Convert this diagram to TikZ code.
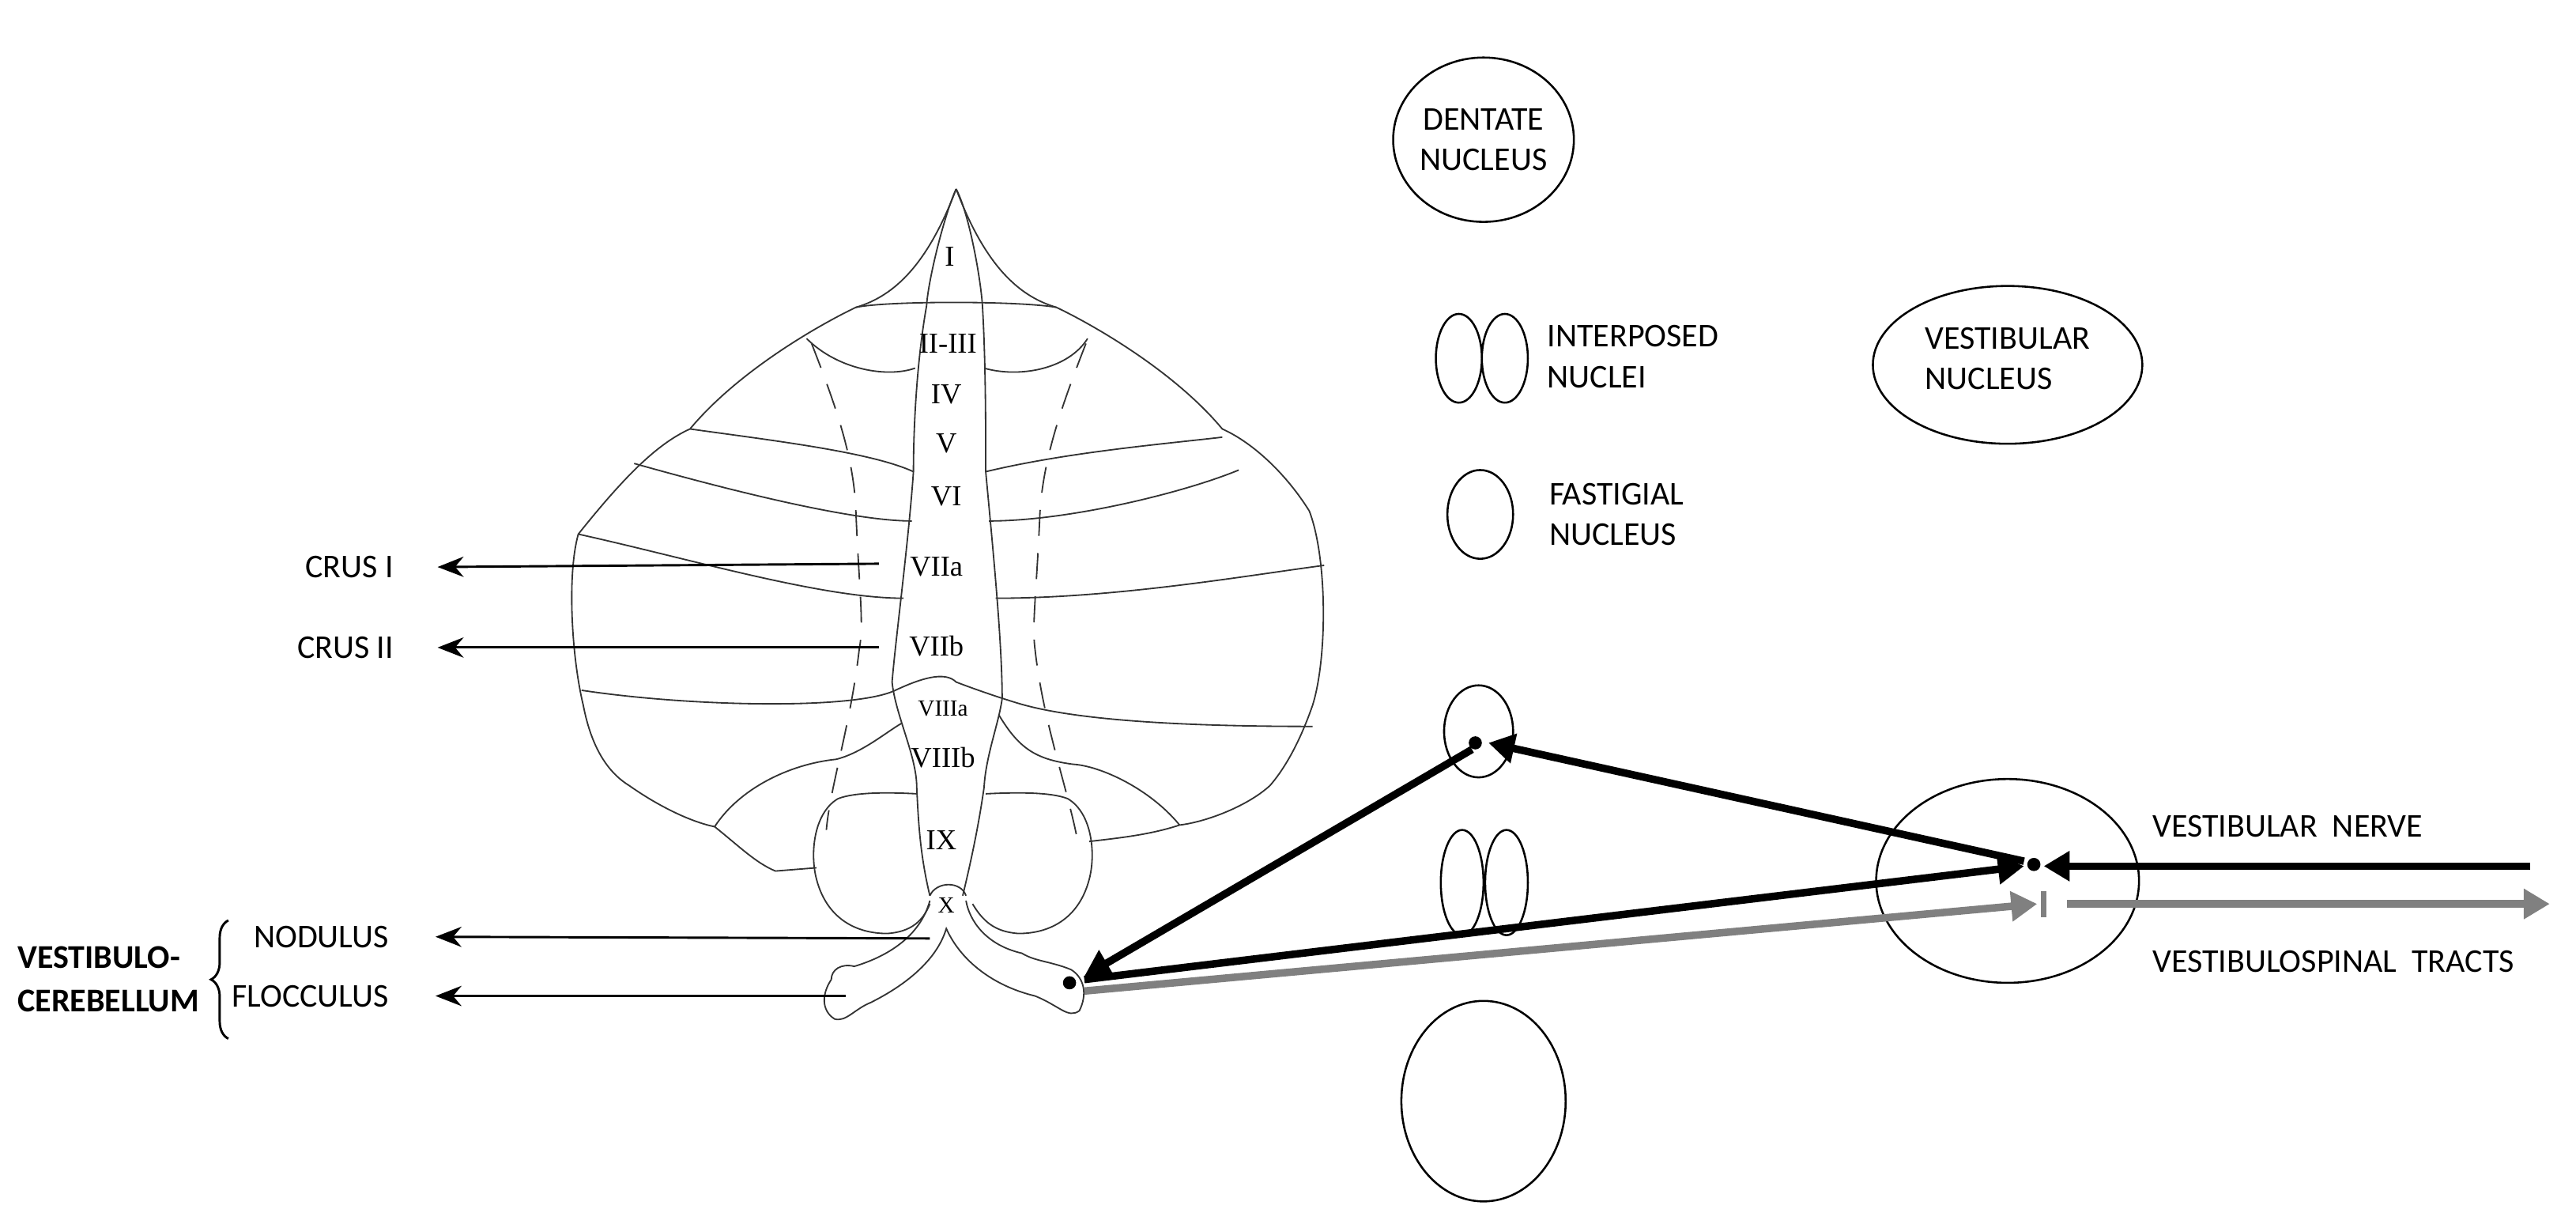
\documentclass[tikz,border=0pt]{standalone}
\usepackage{fontspec}
\setmainfont{Carlito}
\newfontfamily\rom{Liberation Serif}
\usetikzlibrary{arrows.meta,decorations.pathreplacing,shapes.geometric}
\begin{document}
\begin{tikzpicture}[x=0.02cm,y=-0.02cm,
  lbl/.style={font=\fontsize{11.5}{14}\selectfont,align=left,inner sep=0},
  rn/.style={font=\rom\fontsize{10}{12}\selectfont,inner sep=0},
  cb/.style={line width=0.5pt,black!80},
  thin/.style={line width=0.8pt,-{Stealth[length=9pt,width=7pt]}},
  thk/.style={line width=2.6pt,-{Triangle[length=9pt,width=10pt]}},
  gry/.style={line width=2.6pt,gray,-{Triangle[length=9pt,width=10pt]}},
  nuc/.style={draw,line width=0.7pt}]
\useasboundingbox (0,0) rectangle (1568,747);
% ---- cerebellum ----
\draw[cb] (582,115) .. controls (565,160) and (545,180) .. (521,187)
  .. controls (500,197) and (450,225) .. (420,261)
  .. controls (400,270) and (380,290) .. (352,325)
  .. controls (345,350) and (348,400) .. (355,429)
  .. controls (360,455) and (370,470) .. (383,478)
  .. controls (400,490) and (420,500) .. (435,503);
\draw[cb] (582,115) .. controls (599,160) and (619,180) .. (643,187)
  .. controls (664,197) and (714,225) .. (744,261)
  .. controls (764,270) and (784,290) .. (797,311)
  .. controls (808,340) and (808,400) .. (799,429)
  .. controls (790,455) and (780,470) .. (773,478)
  .. controls (760,490) and (735,500) .. (718,502);
% vermis
\draw[cb] (582,115) .. controls (575,130) and (565,170) .. (564,186)
  .. controls (558,220) and (556,260) .. (556,287)
  .. controls (553,330) and (545,390) .. (543,415)
  .. controls (545,435) and (558,460) .. (558,479)
  .. controls (559,500) and (560,520) .. (566,545);
\draw[cb] (582,115) .. controls (590,130) and (597,170) .. (598,186)
  .. controls (600,220) and (600,260) .. (600,287)
  .. controls (604,330) and (610,390) .. (610,425)
  .. controls (608,440) and (600,460) .. (599,479)
  .. controls (596,500) and (592,520) .. (586,545);
% horizontal lines
\draw[cb] (521,187) .. controls (540,183) and (620,183) .. (643,187);
\draw[cb] (491,206) .. controls (510,225) and (540,230) .. (557,224)
   (599,224) .. controls (620,230) and (650,225) .. (662,206);
\draw[cb] (420,261) .. controls (470,268) and (530,275) .. (556,287)
   (600,287) .. controls (650,275) and (710,270) .. (744,266);
\draw[cb] (386,282) .. controls (450,300) and (520,317) .. (555,317)
   (602,317) .. controls (650,317) and (720,300) .. (754,286);
\draw[cb] (352,325) .. controls (420,340) and (500,364) .. (550,364)
   (606,364) .. controls (680,364) and (760,350) .. (806,344);
\draw[cb] (354,420) .. controls (420,430) and (520,432) .. (545,420)
  .. controls (560,413) and (575,408) .. (582,415)
  .. controls (595,420) and (610,425) .. (620,428)
  .. controls (660,440) and (740,442) .. (799,442);
% VIIIb lobes
\draw[cb] (435,503) .. controls (450,480) and (480,465) .. (509,462)
  .. controls (525,458) and (540,445) .. (549,440);
\draw[cb] (718,502) .. controls (700,480) and (670,466) .. (653,465)
  .. controls (630,462) and (620,455) .. (608,435);
\draw[cb] (435,503) .. controls (450,515) and (460,525) .. (472,530) -- (497,528);
\draw[cb] (718,502) .. controls (700,508) and (680,510) .. (663,512);
% tonsils
\draw[cb] (558,483) .. controls (540,482) and (520,482) .. (510,486)
  .. controls (495,495) and (493,520) .. (497,535)
  .. controls (503,558) and (520,568) .. (540,568)
  .. controls (555,567) and (562,560) .. (566,550);
\draw[cb] (600,483) .. controls (620,482) and (640,482) .. (650,486)
  .. controls (665,495) and (667,520) .. (663,535)
  .. controls (657,558) and (640,568) .. (620,568)
  .. controls (605,567) and (598,560) .. (592,550);
% nodulus / flocculus
\draw[cb] (566,545) .. controls (570,536) and (585,536) .. (588,545);
\draw[cb] (566,548) .. controls (560,570) and (540,582) .. (520,588)
  .. controls (512,586) and (506,590) .. (506,596)
  .. controls (500,605) and (500,615) .. (508,620)
  .. controls (515,622) and (520,614) .. (530,610)
  .. controls (550,600) and (570,585) .. (576,565)
  .. controls (585,585) and (605,600) .. (630,606)
  .. controls (645,612) and (650,620) .. (657,615)
  .. controls (662,605) and (660,595) .. (652,590)
  .. controls (640,585) and (630,585) .. (622,580)
  .. controls (600,575) and (590,560) .. (588,548);
% dashed
\draw[cb,dashed,dash pattern=on 9pt off 6pt] (494,209) .. controls (510,250) and (520,280) .. (521,312)
  .. controls (523,360) and (526,380) .. (523,395) .. controls (518,440) and (505,480) .. (503,505);
\draw[cb,dashed,dash pattern=on 9pt off 6pt] (661,209) .. controls (645,250) and (635,280) .. (633,312)
  .. controls (631,360) and (628,380) .. (630,395) .. controls (635,440) and (650,480) .. (656,512);
% numerals
\node[rn] at (578,156) {I};
\node[rn] at (577,209) {II-III};
\node[rn] at (576,240) {IV};
\node[rn] at (576,270) {V};
\node[rn] at (576,302) {VI};
\node[rn] at (570,345) {VIIa};
\node[rn] at (570,393) {VIIb};
\node[rn,font=\rom\fontsize{8}{10}\selectfont] at (574,431) {VIIIa};
\node[rn] at (574,461) {VIIIb};
\node[rn] at (573,511) {IX};
\node[rn,font=\rom\fontsize{8}{10}\selectfont] at (576,551) {X};
% left labels
\coordinate (c1) at (535,343); \coordinate (c2) at (535,394);
\coordinate (c3) at (566,571); \coordinate (c4) at (515,606);
\node[lbl,anchor=east] (crus1) at (240,345) {CRUS I};
\node[lbl,anchor=east] (crus2) at (240,394) {CRUS II};
\node[lbl,anchor=east] (nod) at (237,570) {NODULUS};
\node[lbl,anchor=east] (flo) at (237,606) {FLOCCULUS};
\draw[thin] (c1) -- ([xshift=15pt]crus1.east);
\draw[thin] (c2) -- ([xshift=15pt]crus2.east);
\draw[thin] (c3) -- ([xshift=16pt]nod.east);
\draw[thin] (c4) -- ([xshift=16pt]flo.east);
\node[lbl,font=\bfseries\fontsize{11.5}{15}\selectfont] (vc) at (66,596) {VESTIBULO-\\CEREBELLUM};
\draw[line width=0.8pt,decorate,decoration={brace,amplitude=6pt,mirror}] (139,560) -- (139,632);
% nuclei
\node[nuc,ellipse,minimum width=110*0.02cm,minimum height=100*0.02cm,lbl,align=center] (dent) at (903,85) {DENTATE\\NUCLEUS};
\draw[line width=0.7pt] (888,218) ellipse [x radius=14,y radius=27] (916,218) ellipse [x radius=14,y radius=27];
\node[lbl] at (994,217) {INTERPOSED\\NUCLEI};
\draw[line width=0.7pt] (901,313) ellipse [x radius=20,y radius=27];
\node[lbl] at (984,313) {FASTIGIAL\\NUCLEUS};
\draw[line width=0.7pt] (1222,222) ellipse [x radius=82,y radius=48];
\node[lbl] at (1222,218) {VESTIBULAR\\NUCLEUS};
\draw[line width=0.7pt] (900,445) ellipse [x radius=21,y radius=28];
\draw[line width=0.7pt] (890,537) ellipse [x radius=13,y radius=32] (917,537) ellipse [x radius=13,y radius=32];
\draw[line width=0.7pt] (903,670) ellipse [x radius=50,y radius=61];
\draw[line width=0.7pt] (1222,536) ellipse [x radius=80,y radius=62];
% connections
\fill (898,452) circle (4) coordinate (fd);
\fill (1238,526) circle (4) coordinate (vd);
\fill (651,598) circle (4) coordinate (cd);
\coordinate (nin) at (1540,527);
\coordinate (gin) at (1240,550);
\coordinate (gout) at (1552,550);
\draw[thk] (nin) -- (1244,527);
\draw[gray,line width=1.8pt] (1244,542) -- (1244,558);
\draw[gry] (1258,550) -- (gout);
\draw[gry] (660,603) -- (gin);
\draw[thk] (660,596) -- (1232,527);
\draw[thk] (1232,524) -- (906,452);
\draw[thk] (896,456) -- (660,594);
\node[lbl,anchor=west] at (1310,503) {VESTIBULAR\ \ NERVE};
\node[lbl,anchor=west] at (1310,585) {VESTIBULOSPINAL\ \ TRACTS};
\end{tikzpicture}
\end{document}
